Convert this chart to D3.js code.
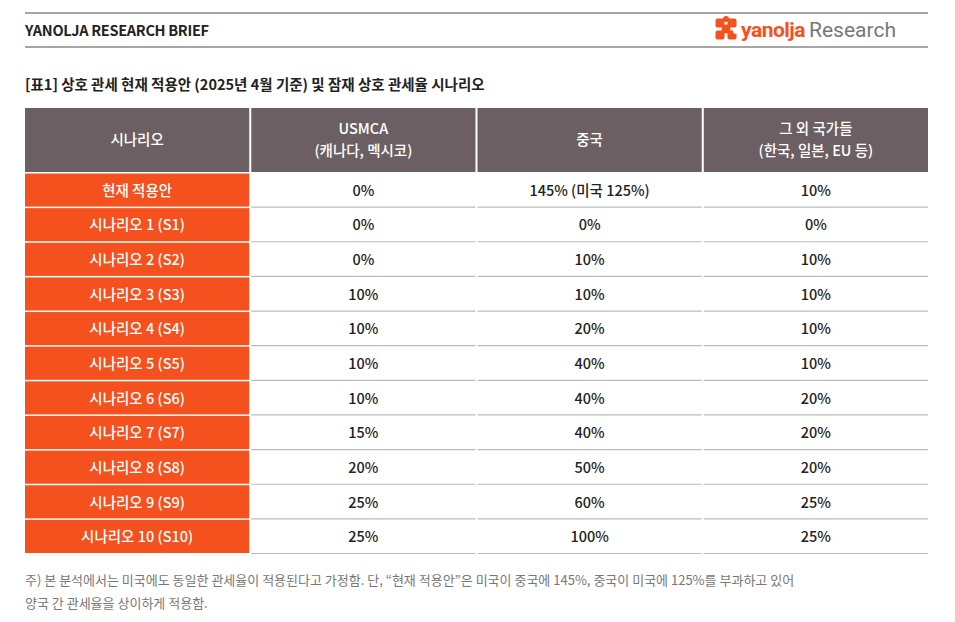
<!DOCTYPE html>
<html><head><meta charset="utf-8">
<script src="https://cdn.jsdelivr.net/npm/d3@7"></script>
<style>body{margin:0;background:#fff}svg{display:block;font-family:"Noto Sans CJK KR","Noto Sans",sans-serif}</style>
</head><body><svg id="c" width="955" height="622"></svg>
<script>
const columns = ["시나리오", "USMCA\n(캐나다, 멕시코)", "중국", "그 외 국가들\n(한국, 일본, EU 등)"];
const scenarios = ["현재 적용안","시나리오 1 (S1)","시나리오 2 (S2)","시나리오 3 (S3)","시나리오 4 (S4)","시나리오 5 (S5)","시나리오 6 (S6)","시나리오 7 (S7)","시나리오 8 (S8)","시나리오 9 (S9)","시나리오 10 (S10)"];
const usmca = ["0%","0%","0%","10%","10%","10%","10%","15%","20%","25%","25%"];
const china = ["145% (미국 125%)","0%","10%","10%","20%","40%","40%","40%","50%","60%","100%"];
const others = ["10%","0%","10%","10%","10%","10%","20%","20%","20%","25%","25%"];
const title = "[표1] 상호 관세 현재 적용안 (2025년 4월 기준) 및 잠재 상호 관세율 시나리오";
const notes = ["주) 본 분석에서는 미국에도 동일한 관세율이 적용된다고 가정함. 단, “현재 적용안”은 미국이 중국에 145%, 중국이 미국에 125%를 부과하고 있어","양국 간 관세율을 상이하게 적용함."];

const svg = d3.select("#c");
const ORANGE = "#f4511e", HEAD = "#6b5f63";
// page header
svg.append("line").attr("x1",25).attr("x2",928).attr("y1",13).attr("y2",13).attr("stroke","#888").attr("stroke-width",1.5);
svg.append("line").attr("x1",25).attr("x2",928).attr("y1",47).attr("y2",47).attr("stroke","#888").attr("stroke-width",1.5);
svg.append("text").attr("x",25).attr("y",36).attr("font-size",14.5).attr("font-weight",700).attr("fill","#222").attr("letter-spacing",-0.3).text("YANOLJA RESEARCH BRIEF");
// logo
const lg = svg.append("g").attr("transform","translate(726,29)").attr("fill",ORANGE);
[[-6,-6],[6,-6],[-6,6],[6,6]].forEach(([dx,dy])=>lg.append("rect").attr("x",dx-4.5).attr("y",dy-4.5).attr("width",9).attr("height",9).attr("rx",2));
lg.append("circle").attr("r",4.5);
lg.append("circle").attr("cx",0).attr("cy",-10).attr("r",3);
lg.append("circle").attr("cx",10).attr("cy",2).attr("r",3).attr("fill","#fff");
const lt = svg.append("text").attr("x",741).attr("y",37).attr("font-size",21).attr("font-family","Roboto, sans-serif");
lt.append("tspan").attr("fill",ORANGE).attr("font-weight",700).attr("letter-spacing",-0.5).text("yanolja");
lt.append("tspan").attr("fill","#777").attr("dx",4).text("Research");

svg.append("text").attr("x",25).attr("y",90).attr("font-size",14.5).attr("font-weight",700).attr("fill","#222").text(title);

// table
const x = d3.scaleBand().domain(d3.range(4)).range([25,928]).paddingInner(0.009);
const yH = [108,172];
const y = d3.scaleBand().domain(d3.range(scenarios.length)).range([173,554]);
const hg = svg.append("g");
columns.forEach((c,i)=>{
  hg.append("rect").attr("x",x(i)).attr("y",yH[0]).attr("width",x.bandwidth()).attr("height",yH[1]-yH[0]).attr("fill",HEAD);
  const lines = c.split("\n");
  const t = hg.append("text").attr("x",x(i)+x.bandwidth()/2).attr("text-anchor","middle").attr("fill","#fff").attr("font-size",14.5).attr("font-weight",500);
  lines.forEach((l,k)=>t.append("tspan").attr("x",x(i)+x.bandwidth()/2).attr("y",(yH[0]+yH[1])/2+5+(k-(lines.length-1)/2)*22).text(l));
});
const rows = svg.append("g").selectAll("g").data(scenarios.map((s,i)=>[s,usmca[i],china[i],others[i]])).join("g");
rows.each(function(r,i){
  const g = d3.select(this);
  g.append("rect").attr("x",x(0)).attr("y",y(i)+0.5).attr("width",x.bandwidth()).attr("height",y.bandwidth()-1.5).attr("fill",ORANGE);
  r.forEach((v,j)=>{
    if(j>0) g.append("line").attr("x1",x(j)).attr("x2",x(j)+x.bandwidth()).attr("y1",y(i)+y.bandwidth()-0.5).attr("y2",y(i)+y.bandwidth()-0.5).attr("stroke","#bbb").attr("stroke-width",1.2);
    g.append("text").attr("x",x(j)+x.bandwidth()/2).attr("y",y(i)+y.bandwidth()/2+5.5).attr("text-anchor","middle").attr("font-size",14.5).attr("font-weight",500).attr("fill",j===0?"#fff":"#222").text(v);
  });
});
notes.forEach((n,k)=>svg.append("text").attr("x",25).attr("y",585+k*23).attr("font-size",13).attr("fill","#777").text(n));
</script></body></html>
